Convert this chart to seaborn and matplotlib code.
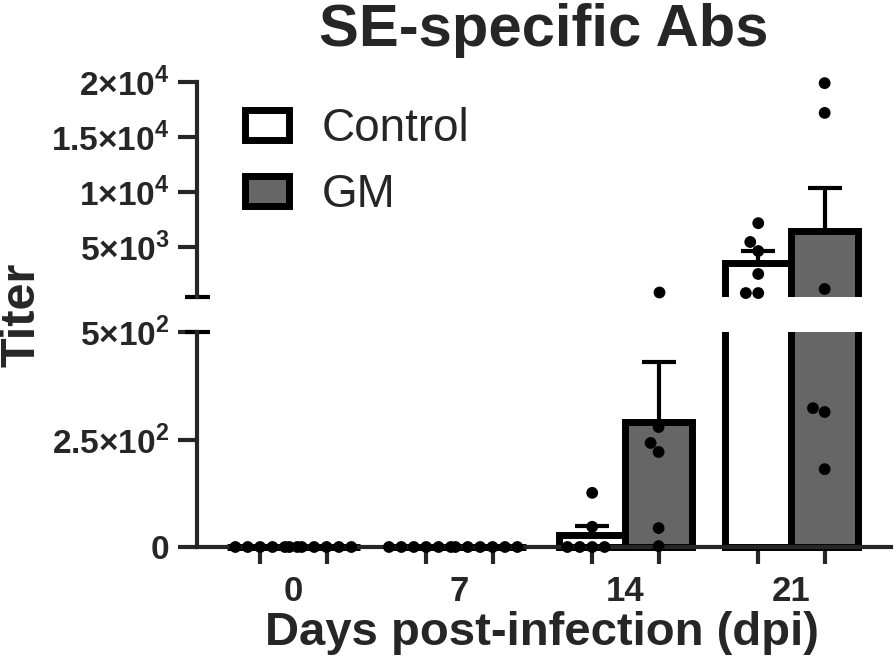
import numpy as np
import pandas as pd
import matplotlib
matplotlib.use("Agg")
import matplotlib.pyplot as plt
from matplotlib.patches import Patch
import seaborn as sns

# --- data (titer per animal, n = 6 per group) ---
days = ['0', '7', '14', '21']
groups = ['Control', 'GM']

control_d0 = [0, 0, 0, 0, 0, 0]
control_d7 = [0, 0, 0, 0, 0, 0]
control_d14 = [126, 47, 0, 0, 0, 0]
control_d21 = [7200, 5490, 4670, 2590, 860, 860]

gm_d0 = [0, 0, 0, 0, 0, 0]
gm_d7 = [0, 0, 0, 0, 0, 0]
gm_d14 = [950, 279, 242, 221, 44, 2]
gm_d21 = [19900, 17200, 1225, 323, 314, 181]

break_at = 500
upper_ticks = [5000, 10000, 15000, 20000]
upper_labels = ['5×10$^{\\mathbf{3}}$', '1×10$^{\\mathbf{4}}$',
                '1.5×10$^{\\mathbf{4}}$', '2×10$^{\\mathbf{4}}$']
lower_ticks = [0, 250, 500]
lower_labels = ['0', '2.5×10$^{\\mathbf{2}}$', '5×10$^{\\mathbf{2}}$']

colors = {'Control': 'white', 'GM': '#666666'}

# --- long table for seaborn ---
series = {
    'Control': [control_d0, control_d7, control_d14, control_d21],
    'GM': [gm_d0, gm_d7, gm_d14, gm_d21],
}
rows = []
for g in groups:
    for d, vals in zip(days, series[g]):
        for v in vals:
            rows.append({'day': d, 'group': g, 'titer': v})
df = pd.DataFrame(rows)

stats = df.groupby(['group', 'day'], sort=False)['titer'].agg(['mean', 'sem'])

sns.set_style('ticks')
plt.rcParams['font.family'] = ['Liberation Sans', 'DejaVu Sans']
plt.rcParams['font.weight'] = 'bold'
plt.rcParams['mathtext.fontset'] = 'custom'
plt.rcParams['mathtext.bf'] = 'Liberation Sans:bold'
plt.rcParams['mathtext.rm'] = 'Liberation Sans:bold'

fig = plt.figure(figsize=(8.96, 6.67), dpi=100)
ax_lo = fig.add_axes([0.2199, 0.1696, 0.7746, 0.3326])
ax_hi = fig.add_axes([0.2199, 0.5547, 0.7746, 0.3223])

# points shown in each piece of the broken axis
pts_lo = df[df['titer'] <= break_at]
pts_hi = df[df['titer'] > break_at]

for ax, pts in ((ax_lo, pts_lo), (ax_hi, pts_hi)):
    sns.barplot(data=df, x='day', y='titer', hue='group', order=days,
                hue_order=groups, palette=colors, saturation=1,
                edgecolor='black', linewidth=5, errorbar=None,
                legend=False, ax=ax)
    if ax is ax_hi:
        # bars that end below the break would leave a sliver of edge
        for p in ax.patches:
            if p.get_height() <= break_at:
                p.set_visible(False)
    n_before = len(ax.collections)
    sns.swarmplot(data=pts, x='day', y='titer', hue='group', order=days,
                  hue_order=groups, palette={'Control': 'black', 'GM': 'black'},
                  dodge=True, size=8.5, linewidth=0, legend=False, ax=ax)
    for c in ax.collections[n_before:]:
        c.set_clip_on(False)
        c.set_zorder(4)
    # SEM above the bar only
    for k, g in enumerate(groups):
        m = stats.loc[g].reindex(days)
        xpos = np.arange(len(days)) + (-0.2 if k == 0 else 0.2)
        if ax is ax_hi:
            keep = (m['mean'] + m['sem']).to_numpy() > break_at
        else:
            keep = m['mean'].to_numpy() <= break_at
        ax.errorbar(xpos[keep], m['mean'][keep],
                    yerr=[np.zeros(keep.sum()), m['sem'][keep]],
                    fmt='none', ecolor='black', elinewidth=3,
                    capsize=12, capthick=3, zorder=3)
    ax.set_xlim(-0.58, 3.6)
    ax.set_xlabel('')
    ax.set_ylabel('')
    ax.tick_params(axis='y', length=14, width=3, labelsize=24, pad=6)
    for s in ax.spines.values():
        s.set_linewidth(3)

# lower segment
ax_lo.set_ylim(-16, break_at)
ax_lo.set_yticks(lower_ticks)
ax_lo.set_yticklabels(lower_labels)
ax_lo.spines['left'].set_bounds(0, break_at)
ax_lo.spines['bottom'].set_position(('data', 0))
ax_lo.spines['top'].set_visible(False)
ax_lo.spines['right'].set_visible(False)
ax_lo.set_xticks(range(len(days)))
ax_lo.set_xticklabels(days)
ax_lo.tick_params(axis='x', which='major', length=0, labelsize=25, pad=20)
ax_lo.set_xticks([i + o for i in range(len(days)) for o in (-0.2, 0.2)], minor=True)
ax_lo.tick_params(axis='x', which='minor', length=12.5, width=3)

# upper segment
ax_hi.set_ylim(break_at, 20000)
ax_hi.set_yticks(upper_ticks)
ax_hi.set_yticklabels(upper_labels)
for side in ('top', 'right', 'bottom'):
    ax_hi.spines[side].set_visible(False)
ax_hi.set_xticks([])

# break caps at the ends of the two y-axis pieces
for ax in (ax_lo, ax_hi):
    ax.plot([0], [break_at], marker='_', markersize=18, mew=3, color='black',
            transform=ax.get_yaxis_transform(), clip_on=False)

handles = [Patch(facecolor=colors[g], edgecolor='black', linewidth=5, label=g)
           for g in groups]
ax_hi.legend(handles=handles, loc='upper left', bbox_to_anchor=(0.069, 0.885),
             frameon=False, prop={'size': 33, 'weight': 'normal'},
             handlelength=0.96, handleheight=0.63, handletextpad=0.72,
             labelspacing=0.48, borderpad=0, borderaxespad=0)

fig.text(0.607, 0.931, 'SE-specific Abs', ha='center', va='baseline',
         fontsize=43, fontweight='bold')
fig.text(0.605, 0.033, 'Days post-infection (dpi)', ha='center', va='baseline',
         fontsize=34, fontweight='bold')
fig.text(0.024, 0.528, 'Titer', ha='center', va='center', rotation=90,
         fontsize=35, fontweight='bold')

fig.savefig('out.png', dpi=100)
